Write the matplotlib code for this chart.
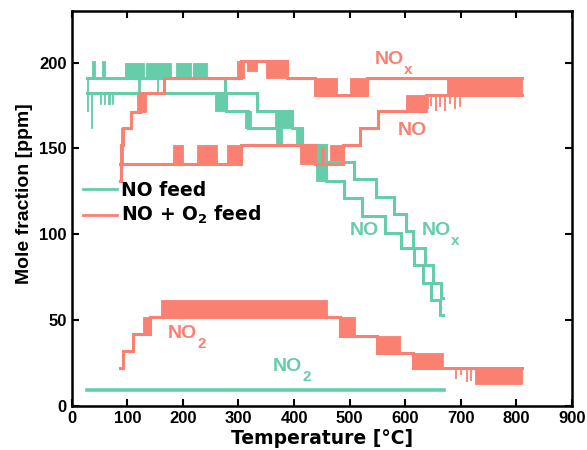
import matplotlib
matplotlib.use('Agg')
import matplotlib.pyplot as plt
from matplotlib.lines import Line2D

plt.rcParams['font.family'] = ['Liberation Sans', 'DejaVu Sans']
plt.rcParams['font.weight'] = 'bold'
plt.rcParams['mathtext.default'] = 'regular'

GREEN = '#66CDAA'
RED = '#FA8072'

# ---------------- NO feed (green) ----------------
nofeed_nox_T = [27, 276, 334, 396, 415, 458, 508, 548, 580, 601, 614, 635, 650, 665, 668]
nofeed_nox_ppm = [191, 182, 172, 162, 152, 142, 132, 122, 112, 102, 92, 82, 72, 63, 63]
nofeed_nox_noise = [(27, 30, 172, 191), (37, 42, 191, 201), (54, 60, 191, 201),
                    (96, 130, 191, 200), (133, 178, 191, 200), (188, 214, 191, 200),
                    (218, 244, 191, 200), (365, 396, 162, 172), (404, 415, 152, 162)]

nofeed_no_T = [27, 258, 278, 318, 375, 458, 490, 523, 563, 593, 616, 632, 647, 663, 668]
nofeed_no_ppm = [182, 182, 172, 162, 152, 131, 121, 111, 101, 92, 82, 72, 62, 53, 53]
nofeed_no_noise = [(35, 37, 162, 182), (51, 53, 176, 182), (58, 60, 176, 182),
                   (66, 68, 176, 182), (73, 75, 176, 182), (120, 123, 182, 191),
                   (153, 156, 182, 191), (258, 278, 172, 182), (312, 322, 162, 172),
                   (368, 378, 152, 162), (440, 458, 131, 152)]

nofeed_no2_T = [27, 670]
nofeed_no2_ppm = [9.5, 9.5]

# ---------------- NO + O2 feed (red) ----------------
feed_nox_T = [87, 89, 93, 107, 122, 166, 305, 387, 438, 531, 810]
feed_nox_ppm = [131, 152, 162, 171, 182, 191, 201, 191, 181, 191, 191]
feed_nox_noise = [(89, 93, 141, 162), (118, 134, 171, 182), (298, 310, 191, 201),
                  (316, 333, 195, 201), (350, 387, 191, 201), (438, 477, 181, 191),
                  (501, 531, 181, 191), (675, 810, 181, 191)]

feed_no_T = [87, 305, 438, 489, 518, 552, 637, 810]
feed_no_ppm = [141, 152, 141, 152, 162, 172, 181, 181]
feed_no_noise = [(182, 200, 141, 152), (225, 262, 141, 152), (280, 305, 141, 152),
                 (411, 438, 141, 152), (448, 456, 141, 152), (464, 489, 141, 152),
                 (601, 637, 172, 181)]
feed_no_spikes_T = [641, 647, 655, 663, 671, 680, 690, 699]
feed_no_spikes_lo = [173, 175, 172, 174, 172, 176, 173, 174]

feed_no2_T = [86, 92, 110, 140, 483, 549, 615, 810]
feed_no2_ppm = [22, 32, 42, 52, 41, 31, 22, 22]
feed_no2_noise = [(128, 140, 42, 52), (160, 460, 52, 62), (483, 510, 41, 52),
                  (549, 590, 31, 41), (615, 668, 22, 31), (725, 810, 13, 22)]
feed_no2_spikes_T = [692, 700, 712, 718]
feed_no2_spikes_lo = [16, 18, 14, 15]

LW = 2.2

fig = plt.figure(figsize=(5.87, 4.5), dpi=100)
ax = fig.add_axes([0.1222, 0.0971, 0.852, 0.8785])


def draw(T, ppm, noise, color):
    for t0, t1, lo, hi in noise:
        ax.fill_between([t0, t1], [lo, lo], [hi, hi], color=color, lw=0.6,
                        edgecolor=color)
    ax.step(T, ppm, where='post', color=color, lw=LW, solid_joinstyle='miter')


draw(nofeed_nox_T, nofeed_nox_ppm, nofeed_nox_noise, GREEN)
draw(nofeed_no_T, nofeed_no_ppm, nofeed_no_noise, GREEN)
ax.plot(nofeed_no2_T, nofeed_no2_ppm, color=GREEN, lw=2.6)

draw(feed_nox_T, feed_nox_ppm, feed_nox_noise, RED)
draw(feed_no_T, feed_no_ppm, feed_no_noise, RED)
ax.vlines(feed_no_spikes_T, feed_no_spikes_lo, 181, color=RED, lw=1.3)
draw(feed_no2_T, feed_no2_ppm, feed_no2_noise, RED)
ax.vlines(feed_no2_spikes_T, feed_no2_spikes_lo, 22, color=RED, lw=1.3)


# labels on curves: "NO" plus a lowered, smaller subscript
def label(T, y, sub, color):
    ax.text(T, y, 'NO', color=color, fontsize=14, fontweight='bold',
            va='baseline', ha='left')
    if sub:
        ax.annotate(sub, xy=(T, y), xycoords='data', xytext=(21.0, -7.0),
                    textcoords='offset points', color=color, fontsize=11,
                    fontweight='bold', va='baseline', ha='left')


label(546, 199, 'x', RED)
label(587, 157.7, '', RED)
label(501, 99.6, '', GREEN)
label(630, 99.6, 'x', GREEN)
label(173, 39.7, '2', RED)
label(362, 20.5, '2', GREEN)

ax.set_xlim(0, 900)
ax.set_ylim(0, 230)
ax.set_xticks(range(0, 901, 100))
ax.set_yticks(range(0, 201, 50))
ax.tick_params(direction='in', top=True, right=True, length=5, width=1.5,
               labelsize=12, pad=3.5)
for lab in ax.get_xticklabels() + ax.get_yticklabels():
    lab.set_fontweight('bold')
for s in ax.spines.values():
    s.set_linewidth(1.8)

ax.set_xlabel('Temperature [°C]', fontsize=13.5, fontweight='bold',
              family='DejaVu Sans', labelpad=2)
ax.set_ylabel('Mole fraction [ppm]', fontsize=14, fontweight='bold')
ax.yaxis.set_label_coords(-0.077, 0.537)

handles = [Line2D([], [], color=GREEN, lw=2), Line2D([], [], color=RED, lw=2)]
leg = ax.legend(handles, ['NO feed', 'NO + O$_2$ feed'], loc='upper left',
                bbox_to_anchor=(0.0226, 0.570), frameon=False, borderpad=0,
                borderaxespad=0, handlelength=1.8, handletextpad=0.23,
                labelspacing=0.22,
                prop={'family': 'DejaVu Sans', 'weight': 'bold', 'size': 13.5})

fig.savefig('out.png', dpi=100)
